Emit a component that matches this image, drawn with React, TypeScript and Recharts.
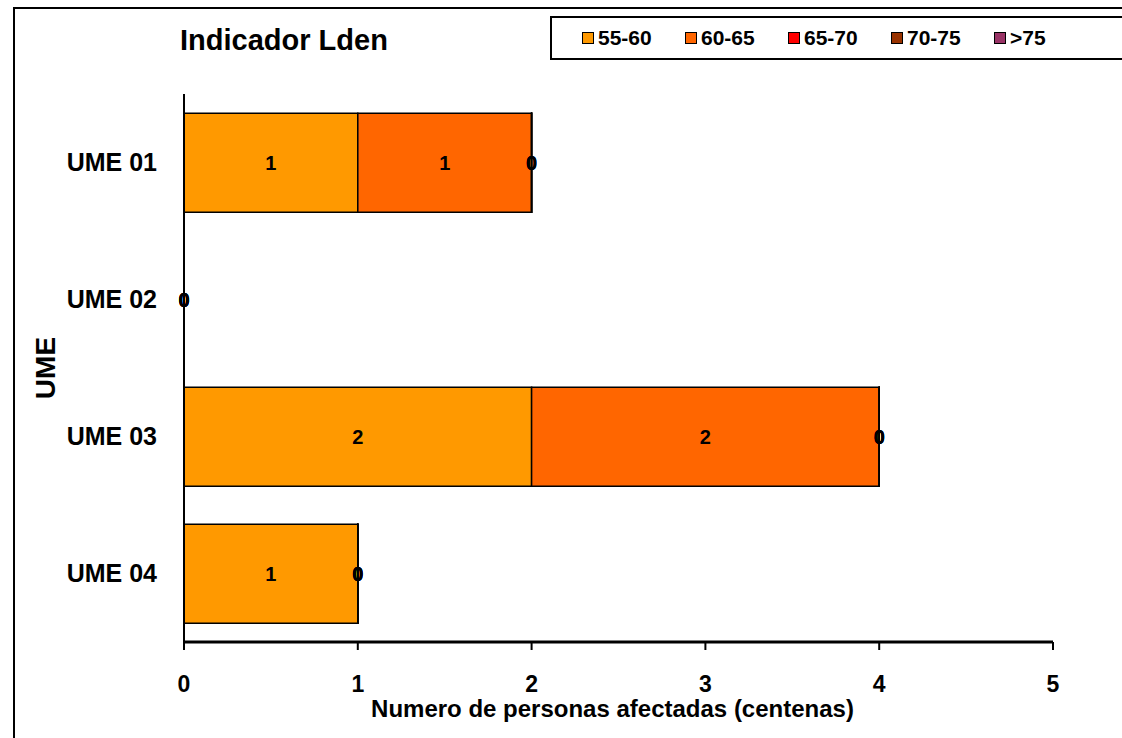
import { BarChart, Bar, XAxis, YAxis, LabelList } from "recharts"

const categories = ["UME 01", "UME 02", "UME 03", "UME 04"]
const bands = ["55-60", "60-65", "65-70", "70-75", ">75"]
const colors = ["#FF9900", "#FF6600", "#FF0000", "#993300", "#993366"]

// centenas de personas por UME y rango de ruido
const v55_60 = [1, 0, 2, 1]
const v60_65 = [1, 0, 2, 0]
const v65_70 = [0, 0, 0, 0]
const v70_75 = [0, 0, 0, 0]
const v75 = [0, 0, 0, 0]
const xTicks = [0, 1, 2, 3, 4, 5]

const series = [v55_60, v60_65, v65_70, v70_75, v75]

const data = categories.map((name, i) => {
  const row: Record<string, any> = { name }
  series.forEach((s, k) => (row[`b${k}`] = s[i]))
  return row
})

const FONT = '"Liberation Sans", Arial, sans-serif'

const XTitle = (props: any) => {
  const vb = props.viewBox
  return (
    <text
      x={vb.x + vb.width / 2 - 6}
      y={vb.y + 75}
      textAnchor="middle"
      fontFamily={FONT}
      fontWeight="bold"
      fontSize={24}
      fill="#000"
    >
      Numero de personas afectadas (centenas)
    </text>
  )
}

const YTitle = (props: any) => {
  const vb = props.viewBox
  const cy = vb.y + vb.height / 2
  return (
    <text
      x={45}
      y={cy}
      transform={`rotate(-90 45 ${cy})`}
      textAnchor="middle"
      dominantBaseline="central"
      fontFamily={FONT}
      fontWeight="bold"
      fontSize={28}
      fill="#000"
    >
      UME
    </text>
  )
}

// etiqueta centrada en el segmento (tambien para los segmentos de valor 0)
const SegLabel = (props: any) => {
  const { x, y, width, height, value } = props
  if (value == null) return null
  return (
    <text
      x={x + width / 2}
      y={y + height / 2}
      textAnchor="middle"
      dominantBaseline="central"
      fontFamily={FONT}
      fontWeight="bold"
      fontSize={20}
      fill="#000"
    >
      {value}
    </text>
  )
}

export default function App() {
  return (
    <div
      style={{
        position: "fixed",
        left: 0,
        top: 0,
        width: 1122,
        height: 738,
        overflow: "hidden",
        background: "#fff",
        fontFamily: FONT,
      }}
    >
      {/* marco exterior, solo se ven los bordes izquierdo y superior */}
      <div
        style={{
          position: "absolute",
          left: 13,
          top: 7,
          width: 1300,
          height: 900,
          border: "2px solid #000",
        }}
      />

      <div
        style={{
          position: "absolute",
          left: 180,
          top: 23,
          fontWeight: "bold",
          fontSize: 29,
          lineHeight: "34px",
          color: "#000",
        }}
      >
        Indicador Lden
      </div>

      {/* leyenda */}
      <div
        style={{
          position: "absolute",
          left: 550,
          top: 16,
          width: 700,
          height: 40,
          border: "2px solid #000",
          background: "#fff",
        }}
      >
        {bands.map((b, i) => (
          <div
            key={b}
            style={{
              position: "absolute",
              left: 30 + i * 103,
              top: 7,
              display: "flex",
              alignItems: "center",
              fontWeight: "bold",
              fontSize: 21,
              lineHeight: "26px",
            }}
          >
            <span
              style={{
                display: "inline-block",
                width: 10,
                height: 10,
                background: colors[i],
                border: "1.5px solid #000",
                marginRight: 4,
              }}
            />
            {b}
          </div>
        ))}
      </div>

      <BarChart
        style={{ position: "absolute", left: 0, top: 0 }}
        width={1122}
        height={738}
        data={data}
        layout="vertical"
        margin={{ top: 94, right: 69, bottom: 36, left: 0 }}
        barCategoryGap="14%"
      >
        <XAxis
          type="number"
          domain={[0, 5]}
          ticks={xTicks}
          interval={0}
          height={60}
          tickSize={8}
          tickMargin={26}
          axisLine={{ stroke: "#000", strokeWidth: 3 }}
          tickLine={{ stroke: "#000", strokeWidth: 2 }}
          tick={{ fill: "#000", fontSize: 23, fontWeight: "bold", fontFamily: FONT }}
          label={<XTitle />}
        />
        <YAxis
          type="category"
          dataKey="name"
          width={184}
          tickSize={0}
          tickMargin={27}
          tickLine={false}
          axisLine={{ stroke: "#000", strokeWidth: 2 }}
          tick={{ fill: "#000", fontSize: 25, fontWeight: "bold", fontFamily: FONT }}
          label={<YTitle />}
        />
        {bands.map((b, k) => (
          <Bar
            key={b}
            dataKey={`b${k}`}
            name={b}
            stackId="a"
            fill={colors[k]}
            stroke="#000"
            strokeWidth={1.5}
            minPointSize={0.001}
            isAnimationActive={false}
          >
            <LabelList dataKey={`b${k}`} content={<SegLabel />} />
          </Bar>
        ))}
      </BarChart>
    </div>
  )
}
